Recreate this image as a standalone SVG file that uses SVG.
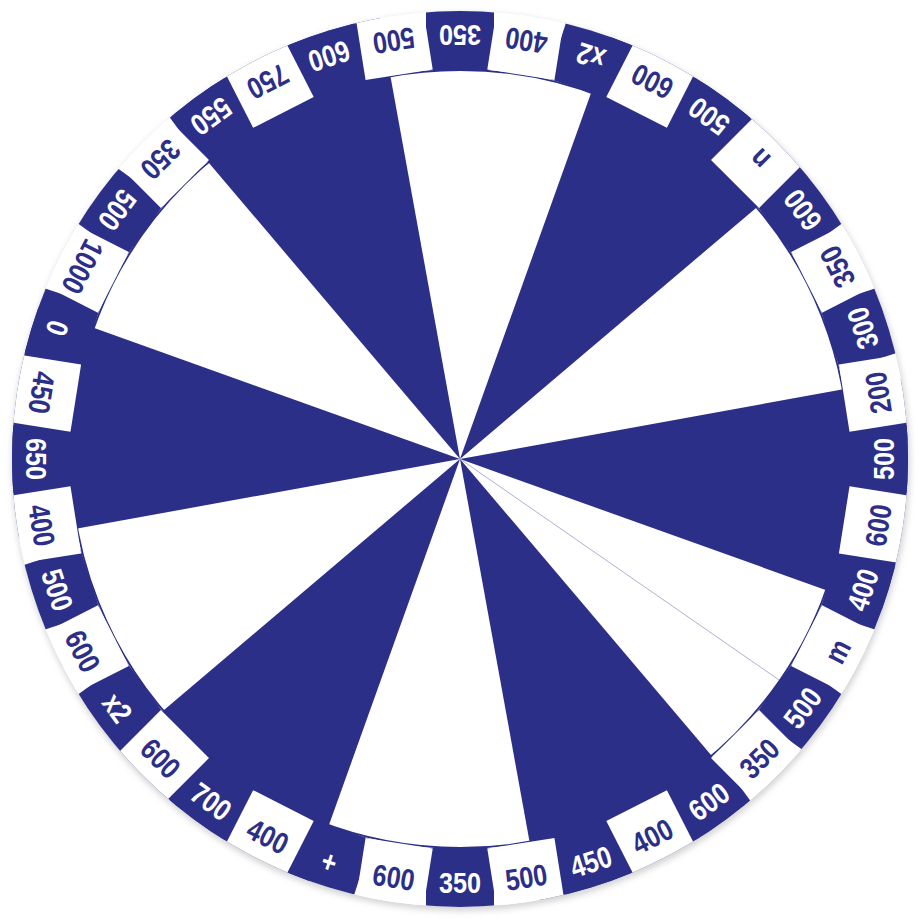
<svg xmlns="http://www.w3.org/2000/svg" xmlns:xlink="http://www.w3.org/1999/xlink" width="920" height="920" viewBox="0 0 920 920">
<style>
.b{fill:#2C2F87}
.w{fill:#FFFFFF}
.t{font-family:'Liberation Sans',Arial,sans-serif;font-weight:bold;font-size:30px;text-anchor:middle}
.tw{fill:#FFFFFF}
.tb{fill:#2C2F87}
</style>
<defs>
<filter id="sh" x="-10%" y="-10%" width="120%" height="120%"><feGaussianBlur stdDeviation="3"/></filter>
<clipPath id="disc"><circle cx="460" cy="459" r="448"/></clipPath>
<path id="wedge" d="M0,0 L-121.64,-453.99 L121.64,-453.99 Z"/>
<rect id="box" x="-34" y="-462" width="68" height="73"/>
</defs>
<rect width="920" height="920" fill="#FFFFFF"/>
<circle cx="461" cy="462" r="449" fill="#D4D4D4" filter="url(#sh)"/>
<circle cx="460" cy="459" r="448" fill="#FFFFFF"/>
<g id="wheel" clip-path="url(#disc)">
<g id="wedges" class="b">
<use xlink:href="#wedge" transform="translate(460,459) rotate(34.7)"/>
<use xlink:href="#wedge" transform="translate(460,459) rotate(94.7)"/>
<use xlink:href="#wedge" transform="translate(460,459) rotate(154.7)"/>
<use xlink:href="#wedge" transform="translate(460,459) rotate(214.7)"/>
<use xlink:href="#wedge" transform="translate(460,459) rotate(274.7)"/>
<use xlink:href="#wedge" transform="translate(460,459) rotate(334.7)"/>
</g>
<g id="connectors">
<line x1="460" y1="459" x2="779.8" y2="680.5" stroke="#9A9CC8" stroke-width="0.8"/>
<circle cx="460" cy="459" r="389" fill="none" stroke="#2C2F87" stroke-width="1.8"/>
</g>
<g id="ring" transform="translate(460,459)">
<g id="s0" transform="rotate(0)"><use xlink:href="#box" class="b"/><text class="t tw" transform="translate(0,-423) rotate(180) scale(0.84,1)" y="11">350</text></g>
<g id="s2" transform="rotate(18)"><use xlink:href="#box" class="b"/><text class="t tw" transform="translate(0,-423) rotate(180) scale(0.84,1)" y="11">x2</text></g>
<g id="s4" transform="rotate(36)"><use xlink:href="#box" class="b"/><text class="t tw" transform="translate(0,-423) rotate(180) scale(0.84,1)" y="11">500</text></g>
<g id="s6" transform="rotate(54)"><use xlink:href="#box" class="b"/><text class="t tw" transform="translate(0,-423) rotate(180) scale(0.84,1)" y="11">600</text></g>
<g id="s8" transform="rotate(72)"><use xlink:href="#box" class="b"/><text class="t tw" transform="translate(0,-423) rotate(180) scale(0.84,1)" y="11">300</text></g>
<g id="s10" transform="rotate(90)"><use xlink:href="#box" class="b"/><text class="t tw" transform="translate(0,-423) rotate(180) scale(0.84,1)" y="11">500</text></g>
<g id="s12" transform="rotate(108)"><use xlink:href="#box" class="b"/><text class="t tw" transform="translate(0,-423) rotate(180) scale(0.84,1)" y="11">400</text></g>
<g id="s14" transform="rotate(126)"><use xlink:href="#box" class="b"/><text class="t tw" transform="translate(0,-423) rotate(180) scale(0.84,1)" y="11">500</text></g>
<g id="s16" transform="rotate(144)"><use xlink:href="#box" class="b"/><text class="t tw" transform="translate(0,-423) rotate(180) scale(0.84,1)" y="11">600</text></g>
<g id="s18" transform="rotate(162)"><use xlink:href="#box" class="b"/><text class="t tw" transform="translate(0,-423) rotate(180) scale(0.84,1)" y="11">450</text></g>
<g id="s20" transform="rotate(180)"><use xlink:href="#box" class="b"/><text class="t tw" transform="translate(0,-423) rotate(180) scale(0.84,1)" y="11">350</text></g>
<g id="s22" transform="rotate(198)"><use xlink:href="#box" class="b"/><text class="t tw" transform="translate(0,-423) rotate(180) scale(0.84,1)" y="11">+</text></g>
<g id="s24" transform="rotate(216)"><use xlink:href="#box" class="b"/><text class="t tw" transform="translate(0,-423) rotate(180) scale(0.84,1)" y="11">700</text></g>
<g id="s26" transform="rotate(234)"><use xlink:href="#box" class="b"/><text class="t tw" transform="translate(0,-423) rotate(180) scale(0.84,1)" y="11">x2</text></g>
<g id="s28" transform="rotate(252)"><use xlink:href="#box" class="b"/><text class="t tw" transform="translate(0,-423) rotate(180) scale(0.84,1)" y="11">500</text></g>
<g id="s30" transform="rotate(270)"><use xlink:href="#box" class="b"/><text class="t tw" transform="translate(0,-423) rotate(180) scale(0.84,1)" y="11">650</text></g>
<g id="s32" transform="rotate(288)"><use xlink:href="#box" class="b"/><text class="t tw" transform="translate(0,-423) rotate(180) scale(0.84,1)" y="11">0</text></g>
<g id="s34" transform="rotate(306)"><use xlink:href="#box" class="b"/><text class="t tw" transform="translate(0,-423) rotate(180) scale(0.84,1)" y="11">500</text></g>
<g id="s36" transform="rotate(324)"><use xlink:href="#box" class="b"/><text class="t tw" transform="translate(0,-423) rotate(180) scale(0.84,1)" y="11">550</text></g>
<g id="s38" transform="rotate(342)"><use xlink:href="#box" class="b"/><text class="t tw" transform="translate(0,-423) rotate(180) scale(0.84,1)" y="11">600</text></g>
<g id="s1" transform="rotate(9)"><use xlink:href="#box" class="w"/><text class="t tb" transform="translate(0,-423) rotate(180) scale(0.84,1)" y="11">400</text></g>
<g id="s3" transform="rotate(27)"><use xlink:href="#box" class="w"/><text class="t tb" transform="translate(0,-423) rotate(180) scale(0.84,1)" y="11">600</text></g>
<g id="s5" transform="rotate(45)"><use xlink:href="#box" class="w"/><text class="t tb" transform="translate(0,-423) rotate(180) scale(0.84,1)" y="11">n</text></g>
<g id="s7" transform="rotate(63)"><use xlink:href="#box" class="w"/><text class="t tb" transform="translate(0,-423) rotate(180) scale(0.84,1)" y="11">350</text></g>
<g id="s9" transform="rotate(81)"><use xlink:href="#box" class="w"/><text class="t tb" transform="translate(0,-423) rotate(180) scale(0.84,1)" y="11">200</text></g>
<g id="s11" transform="rotate(99)"><use xlink:href="#box" class="w"/><text class="t tb" transform="translate(0,-423) rotate(180) scale(0.84,1)" y="11">600</text></g>
<g id="s13" transform="rotate(117)"><use xlink:href="#box" class="w"/><text class="t tb" transform="translate(0,-423) rotate(180) scale(0.84,1)" y="11">m</text></g>
<g id="s15" transform="rotate(135)"><use xlink:href="#box" class="w"/><text class="t tb" transform="translate(0,-423) rotate(180) scale(0.84,1)" y="11">350</text></g>
<g id="s17" transform="rotate(153)"><use xlink:href="#box" class="w"/><text class="t tb" transform="translate(0,-423) rotate(180) scale(0.84,1)" y="11">400</text></g>
<g id="s19" transform="rotate(171)"><use xlink:href="#box" class="w"/><text class="t tb" transform="translate(0,-423) rotate(180) scale(0.84,1)" y="11">500</text></g>
<g id="s21" transform="rotate(189)"><use xlink:href="#box" class="w"/><text class="t tb" transform="translate(0,-423) rotate(180) scale(0.84,1)" y="11">600</text></g>
<g id="s23" transform="rotate(207)"><use xlink:href="#box" class="w"/><text class="t tb" transform="translate(0,-423) rotate(180) scale(0.84,1)" y="11">400</text></g>
<g id="s25" transform="rotate(225)"><use xlink:href="#box" class="w"/><text class="t tb" transform="translate(0,-423) rotate(180) scale(0.84,1)" y="11">600</text></g>
<g id="s27" transform="rotate(243)"><use xlink:href="#box" class="w"/><text class="t tb" transform="translate(0,-423) rotate(180) scale(0.84,1)" y="11">600</text></g>
<g id="s29" transform="rotate(261)"><use xlink:href="#box" class="w"/><text class="t tb" transform="translate(0,-423) rotate(180) scale(0.84,1)" y="11">400</text></g>
<g id="s31" transform="rotate(279)"><use xlink:href="#box" class="w"/><text class="t tb" transform="translate(0,-423) rotate(180) scale(0.84,1)" y="11">450</text></g>
<g id="s33" transform="rotate(297)"><use xlink:href="#box" class="w"/><text class="t tb" transform="translate(0,-423) rotate(180) scale(0.84,1)" y="11">1000</text></g>
<g id="s35" transform="rotate(315)"><use xlink:href="#box" class="w"/><text class="t tb" transform="translate(0,-423) rotate(180) scale(0.84,1)" y="11">350</text></g>
<g id="s37" transform="rotate(333)"><use xlink:href="#box" class="w"/><text class="t tb" transform="translate(0,-423) rotate(180) scale(0.84,1)" y="11">750</text></g>
<g id="s39" transform="rotate(351)"><use xlink:href="#box" class="w"/><text class="t tb" transform="translate(0,-423) rotate(180) scale(0.84,1)" y="11">500</text></g>
</g>
</g>
</svg>
